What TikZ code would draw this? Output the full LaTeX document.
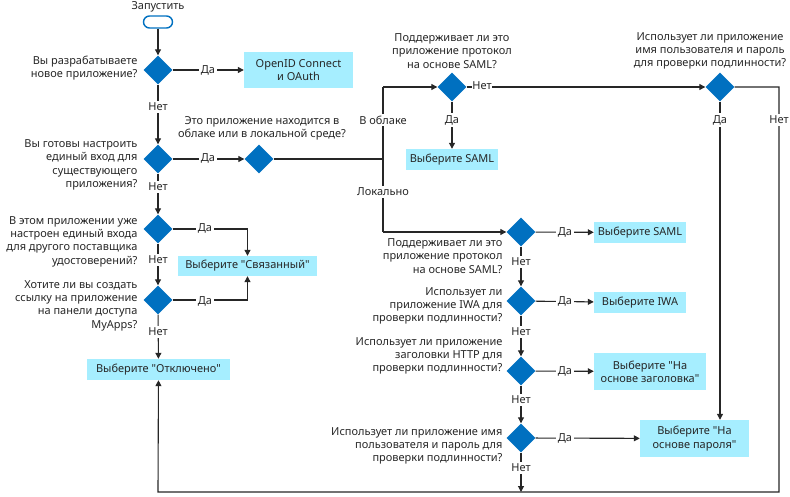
\documentclass[tikz,border=0pt]{standalone}
\usepackage{fontspec}
\setmainfont{Noto Sans}
\usetikzlibrary{arrows.meta,shapes.geometric}

\definecolor{decblue}{RGB}{0,112,192}
\definecolor{rescyan}{RGB}{166,238,255}
\definecolor{inkgray}{RGB}{38,38,38}

\tikzset{
  dec/.style={diamond, aspect=1, fill=decblue, minimum size=29pt, inner sep=0pt},
  res/.style={fill=rescyan, align=center, inner sep=0pt},
  ask/.style={align=right, anchor=east},
  askc/.style={align=center},
  lbl/.style={fill=white, inner sep=2pt},
  wire/.style={draw=black!85, line width=1.1pt},
  flow/.style={wire, -{Triangle[length=6pt,width=6pt]}}
}

\begin{document}
\begin{tikzpicture}[x=1pt, y=-1pt, font=\fontsize{11}{13.3}\selectfont, text=inkgray]
  \useasboundingbox (0,0) rectangle (790,497);

  % start
  \node[draw=decblue, line width=1.4pt, rounded corners=6pt, minimum width=29pt, minimum height=12pt, inner sep=0pt] (start) at (158,22) {};
  \node (startlbl) at (158,7) {Запустить};

  % left column
  \node[dec] (dev) at (158,70) {};
  \node[dec] (exist) at (158,159) {};
  \node[dec] (fedidp) at (158,229) {};
  \node[dec] (myapps) at (158,300) {};
  \node[ask] (qdev) at (141,68) {Вы разрабатываете\\новое приложение?};
  \node[ask] (qexist) at (141,165) {Вы готовы настроить\\единый вход для\\существующего\\приложения?};
  \node[ask] (qfedidp) at (141,241.5) {В этом приложении уже\\настроен единый входа\\для другого поставщика\\удостоверений?};
  \node[ask] (qmyapps) at (141,305.5) {Хотите ли вы создать\\ссылку на приложение\\на панели доступа\\MyApps?};

  \node[res, minimum width=109pt, minimum height=36pt] (oidc) at (298.5,70) {OpenID Connect\\и OAuth};
  \node[res, minimum width=139pt, minimum height=20pt] (linked) at (247.5,266) {Выберите \textquotedbl Связанный\textquotedbl};
  \node[res, minimum width=143pt, minimum height=21pt] (disabled) at (158.5,369.5) {Выберите \textquotedbl Отключено\textquotedbl};

  % cloud or on-premises
  \node[dec] (where) at (259,159) {};
  \node[askc] (qwhere) at (262,128.5) {Это приложение находится в\\облаке или в локальной среде?};
  \coordinate (split) at (383,159);
  \coordinate (cloud) at (383,87);
  \coordinate (onprem) at (383,232);

  % cloud branch
  \node[dec] (saml1) at (452,87) {};
  \node[askc] (qsaml1) at (452,51) {Поддерживает ли это\\приложение протокол\\на основе SAML?};
  \node[res, minimum width=92pt, minimum height=21pt] (rsaml1) at (452,159.5) {Выберите SAML};
  \node[dec] (pwd1) at (720,87) {};
  \node[askc] (qpwd1) at (710,51) {Использует ли приложение\\имя пользователя и пароль\\для проверки подлинности?};
  \coordinate (edge) at (779,87);
  \coordinate (edgebot) at (779,492);
  \coordinate (offbot) at (158,492);

  % on-premises branch
  \node[dec] (saml2) at (521,232) {};
  \node[dec] (iwa) at (521,301) {};
  \node[dec] (hdr) at (521,371) {};
  \node[dec] (pwd2) at (521,438) {};
  \node[ask] (qsaml2) at (506,256) {Поддерживает ли это\\приложение протокол\\на основе SAML?};
  \node[ask] (qiwa) at (506,306) {Использует ли\\приложение IWA для\\проверки подлинности?};
  \node[ask] (qhdr) at (506,356) {Использует ли приложение\\заголовки HTTP для\\проверки подлинности?};
  \node[ask] (qpwd2) at (506,446) {Использует ли приложение имя\\пользователя и пароль для\\проверки подлинности?};
  \node[res, minimum width=92pt, minimum height=21pt] (rsaml2) at (640,232.5) {Выберите SAML};
  \node[res, minimum width=92pt, minimum height=21pt] (riwa) at (640,302.5) {Выберите IWA};
  \node[res, minimum width=112pt, minimum height=37pt] (rhdr) at (650,371.5) {Выберите \textquotedbl На\\основе заголовка\textquotedbl};
  \node[res, minimum width=109pt, minimum height=37pt] (rpwd) at (694.5,438.5) {Выберите \textquotedbl На\\основе пароля\textquotedbl};
  \coordinate (pwdbot) at (521,492);

  % connectors
  \draw[flow] (start) -- (dev);
  \draw[flow] (dev) -- (oidc);
  \draw[flow] (dev) -- (exist);
  \draw[flow] (exist) -- (where);
  \draw[flow] (exist) -- (fedidp);
  \draw[flow] (fedidp) -| (linked);
  \draw[flow] (fedidp) -- (myapps);
  \draw[flow] (myapps) -| (linked);
  \draw[flow] (myapps) -- (disabled);
  \draw[wire] (where) -- (split);
  \draw[wire] (cloud) -- (onprem);
  \draw[flow] (cloud) -- (saml1);
  \draw[flow] (onprem) -- (saml2);
  \draw[flow] (saml1) -- (rsaml1);
  \draw[flow] (saml1) -- (pwd1);
  \draw[flow] (pwd1) -- (pwd1 |- rpwd.north);
  \draw[flow] (pwd1.east) -- (edge) -- (edgebot) -- (offbot) -- (disabled);
  \draw[flow] (saml2) -- (rsaml2);
  \draw[flow] (saml2) -- (iwa);
  \draw[flow] (iwa) -- (riwa);
  \draw[flow] (iwa) -- (hdr);
  \draw[flow] (hdr) -- (rhdr);
  \draw[flow] (hdr) -- (pwd2);
  \draw[flow] (pwd2) -- (rpwd);
  \draw[flow] (pwd2) -- (pwdbot);

  % branch labels
  \node[lbl] at (208,70) {Да};
  \node[lbl] at (158,107) {Нет};
  \node[lbl] at (208,158) {Да};
  \node[lbl] at (158,187) {Нет};
  \node[lbl] at (205,228) {Да};
  \node[lbl] at (158,260) {Нет};
  \node[lbl] at (205,301) {Да};
  \node[lbl] at (158,332) {Нет};
  \node[lbl] at (383,120) {В облаке};
  \node[lbl] at (383,192) {Локально};
  \node[lbl, inner sep=0.5pt] at (482,86) {Нет};
  \node[lbl] at (452,120) {Да};
  \node[lbl] at (720,120) {Да};
  \node[lbl] at (779,120) {Нет};
  \node[lbl] at (565,232) {Да};
  \node[lbl] at (521,262) {Нет};
  \node[lbl] at (565,301) {Да};
  \node[lbl] at (521,332) {Нет};
  \node[lbl] at (565,371) {Да};
  \node[lbl] at (521,400) {Нет};
  \node[lbl] at (565,438) {Да};
  \node[lbl] at (521,468) {Нет};
\end{tikzpicture}
\end{document}
